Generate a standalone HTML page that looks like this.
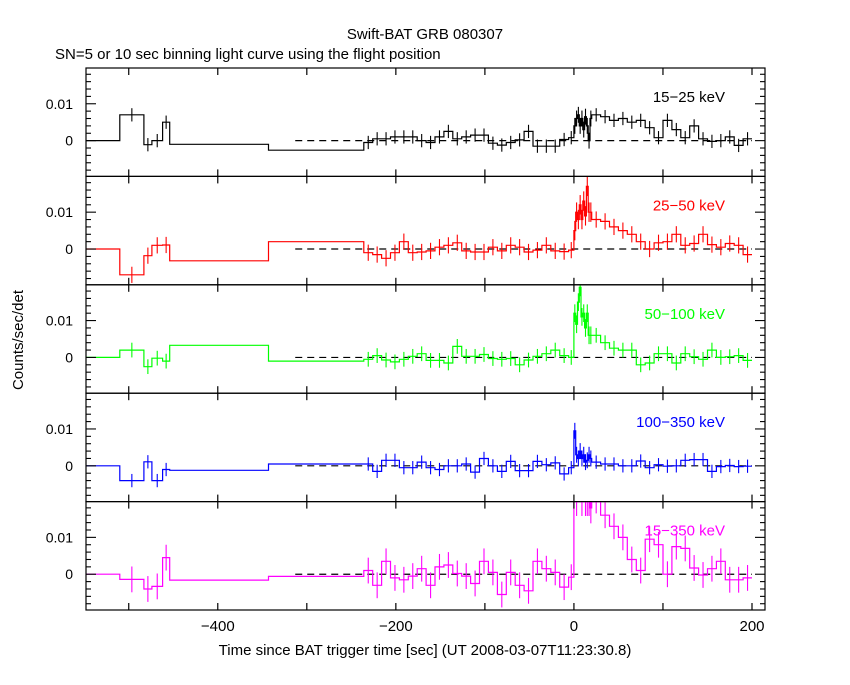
<!DOCTYPE html>
<html><head><meta charset="utf-8">
<style>
body{margin:0;background:#fff;}
svg text{font-family:"Liberation Sans",sans-serif;}
</style></head>
<body>
<svg id="c" width="850" height="680" xmlns="http://www.w3.org/2000/svg">
<rect width="850" height="680" fill="#fff"/>
<text x="425" y="39" text-anchor="middle" font-size="15">Swift-BAT GRB 080307</text>
<text x="55" y="59" font-size="15">SN=5 or 10 sec binning light curve using the flight position</text>
<text transform="translate(23,340) rotate(-90)" text-anchor="middle" font-size="15">Counts/sec/det</text>
<text x="425" y="655" text-anchor="middle" font-size="15">Time since BAT trigger time [sec] (UT 2008-03-07T11:23:30.8)</text>
<g id="g"></g>
</svg>
<script>
const bandLabels=["15\u221225 keV","25\u221250 keV","50\u2212100 keV","100\u2212350 keV","15\u2212350 keV"];
const bandColors=["#000","#f00","#0f0","#00f","#f0f"];
const xTicks=[-400,-200,0,200];
const edgesEarly=[-548,-510,-483,-474,-462,-454,-343,-236];
const edgesMid=[-226,-216,-206,-196,-186,-176,-166,-156,-146,-136,-126,-116,-106,-96,-86,-76,-66,-56,-46,-36,-26,-16,-6,0];
const edgesFine=[2,4,6,8,10,12,14,16,18,20];
const edgesLate=[30,40,50,60,70,80,90,100,110,120,130,140,150,160,170,180,190,200];
const band1=[0,0.007,-0.0011,0,0.005,-0.001,-0.0026,
-0.0005,0.0005,0.0005,0.001,0.001,0.001,0,-0.0005,0.001,0.0025,0.0005,0.001,0.0015,0.0015,-0.0007,-0.0012,-0.0005,0.0002,0.0025,-0.0015,-0.0015,-0.0015,0.0003,0.0008,
0.004,0.006,0.007,0.004,0.006,0.003,0.0065,0.004,0.0,0.006,
0.007,0.0065,0.0055,0.006,0.005,0.0055,0.0035,0.0008,0.0055,0.003,0.0008,0.004,0.0005,-0.0002,0,0.001,-0.0013,0.0005];
const band2=[0,-0.007,-0.0018,0.001,0.0011,-0.0032,0.002,
-0.001,-0.0015,-0.0025,-0.001,0.002,-0.001,-0.0008,-0.0005,0.0005,0.001,0.0017,-0.0005,-0.0008,-0.0008,0.0005,-0.0005,0.001,0.0005,-0.0008,-0.0003,0.001,-0.0005,-0.0007,-0.0003,
0.005,0.01,0.008,0.012,0.008,0.013,0.009,0.017,0.01,0.01,
0.008,0.0075,0.006,0.005,0.004,0.002,0.0,0.0017,0.002,0.004,0.001,0.0015,0.004,0.0012,0.0005,0.0015,0.001,-0.0015];
const band3=[0,0.002,-0.0025,-0.0002,-0.001,0.0033,-0.001,
-0.0005,0.0005,-0.0007,-0.0012,-0.0005,0.0003,0.001,-0.0008,-0.0008,-0.0015,0.003,0.0003,0.0003,0.0008,-0.0003,-0.0005,-0.0003,-0.002,-0.0007,0.0003,0.001,0.002,0.0005,0,
0.012,0.009,0.015,0.019,0.011,0.012,0.008,0.012,0.006,0.006,
0.006,0.004,0.0025,0.002,0.002,-0.002,-0.0015,0.001,0.001,-0.0015,0.001,0.0002,-0.0005,0.002,0,0.0002,0.0005,-0.0008];
const band4=[0,-0.004,0.0011,-0.004,-0.001,-0.0012,0.0005,
0.0005,-0.0015,0.0015,0.0015,-0.0005,-0.0005,0.001,-0.0005,-0.001,0,0,0.0005,-0.0017,0.002,0,-0.0015,0.0012,-0.0013,-0.0013,0.0012,0.0003,0.0008,-0.0022,-0.0005,
0.0095,0.003,0.002,0.004,0.002,0.003,0.001,0.0015,0.003,0.002,
0.001,0.0005,0.0005,0,0,0.0013,-0.0005,0.0003,-0.0001,0,0.0015,0.0017,0.0017,-0.0015,-0.0002,0.0001,-0.0002,-0.0001];
const band5=[0,-0.0014,-0.004,-0.0033,0.0045,-0.0016,-0.0006,
0.001,-0.003,0.0035,-0.001,-0.0015,-0.0005,0.0015,-0.003,0.002,0.0025,0.0002,-0.0005,-0.0025,0.0035,0.0005,-0.0055,0.0005,-0.003,-0.0045,0.0035,0.0015,0.0005,-0.0035,-0.0008,
0.025,0.02,0.025,0.025,0.02,0.025,0.02,0.02,0.02,0.018,
0.02,0.016,0.013,0.010,0.004,0.001,0.0095,0.008,0.0,0.0075,0.007,0.0017,-0.0002,0.0015,0.0035,-0.0015,-0.0015,-0.001];
const bandErrors=[0.0018,0.0022,0.002,0.0018,0.0035];
const bands=[band1,band2,band3,band4,band5];

const NS="http://www.w3.org/2000/svg";
const g=document.getElementById('g');
const L=86,R=765,T=68,PH=108.4;
const xMin=-548,xMax=214.6,yMin=-0.0097,yMax=0.0197;
const edges=edgesEarly.concat(edgesMid,edgesFine,edgesLate);
function X(t){return L+(t-xMin)/(xMax-xMin)*(R-L);}
function mk(tag,attrs,parent){const e=document.createElementNS(NS,tag);for(const k in attrs)e.setAttribute(k,attrs[k]);(parent||g).appendChild(e);return e;}
bands.forEach((vals,p)=>{
  const top=T+p*PH,bot=top+PH;
  const Y=v=>bot-(v-yMin)/(yMax-yMin)*PH;
  const cl=v=>Math.max(top,Math.min(bot,Y(v)));
  const pg=mk('g',{});
  
  
  const dz=mk('line',{x1:X(-313),x2:X(200),y1:Y(0),y2:Y(0),stroke:'#000','stroke-width':1.2,'stroke-dasharray':'7,5'},pg);
  
  
  let d='';
  for(let i=0;i<vals.length;i++){
    const x0=X(edges[i]),x1=X(edges[i+1]),y=cl(vals[i]);
    d+=(i===0?'M':'L')+x0.toFixed(1)+','+y.toFixed(1)+'L'+x1.toFixed(1)+','+y.toFixed(1);
  }
  const path=mk('path',{d:d,fill:'none',stroke:bandColors[p],'stroke-width':1.2},pg);
  
  
  const e=bandErrors[p];
  for(let i=1;i<vals.length;i++){
    const w=edges[i+1]-edges[i]; if(w>40)continue;
    const xc=X((edges[i]+edges[i+1])/2);
    const ee=edges[i]>=0&&edges[i]<20?e*1.2:e;
    const eb=mk('line',{x1:xc,x2:xc,y1:cl(vals[i]-ee),y2:cl(vals[i]+ee),stroke:bandColors[p],'stroke-width':1.1},pg);
    
    
  }
  const fr=mk('rect',{x:L,y:top,width:R-L,height:PH,fill:'none',stroke:'#000','stroke-width':1.2},pg);
  
  
  for(let t=-500;t<=200;t+=100){
    const x=X(t);
    mk('line',{x1:x,x2:x,y1:top,y2:top+7,stroke:'#000','stroke-width':1.2},pg);
    mk('line',{x1:x,x2:x,y1:bot,y2:bot-7,stroke:'#000','stroke-width':1.2},pg);
  }
  for(let k=-4;k<=9;k++){
    const v=k*0.002,y=Y(v); if(y<top+1||y>bot-1)continue;
    const len=(k===0||k===5)?10:5;
    mk('line',{x1:L,x2:L+len,y1:y,y2:y,stroke:'#000','stroke-width':1.1},pg);
    mk('line',{x1:R,x2:R-len,y1:y,y2:y,stroke:'#000','stroke-width':1.1},pg);
  }
  const t1=mk('text',{x:73,y:Y(0.01)+5,'text-anchor':'end','font-size':14},pg);t1.textContent='0.01';
  
  
  const t0=mk('text',{x:73,y:Y(0)+5,'text-anchor':'end','font-size':14},pg);t0.textContent='0';
  
  
  const lb=mk('text',{x:725,y:top+34,'text-anchor':'end','font-size':15,fill:bandColors[p]},pg);
  lb.textContent=bandLabels[p];
  
  
});
xTicks.forEach(t=>{
  const tx=mk('text',{x:X(t),y:631,'text-anchor':'middle','font-size':15});
  tx.textContent=t===0?'0':(t<0?'\u2212'+(-t):String(t));
  
  
});
</script>
</body></html>
